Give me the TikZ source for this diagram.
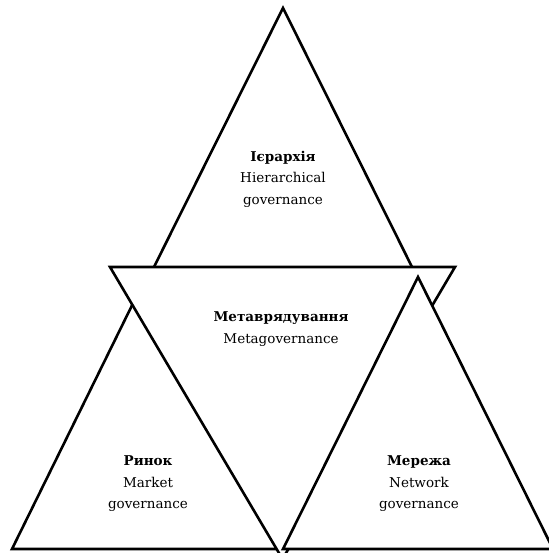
\documentclass[tikz,border=0pt]{standalone}
\usepackage{fontspec}
\setmainfont{DejaVu Serif}
\tikzset{tri/.style = {line width=2.6pt, line join=miter, fill=white, draw},
         txt/.style = {align=center, inner sep=0pt, font=\fontsize{13.5}{21.5}\selectfont}}

\begin{document}
\begin{tikzpicture}[x=1pt, y=-1pt]
    \useasboundingbox (0,0) rectangle (548,553);
    % hierarchy (top)
    \draw[tri] (283,8) -- (148.5,278) -- (417.5,278) -- cycle;
    % market (bottom left)
    \draw[tri] (144.5,280) -- (12,549) -- (277,549) -- cycle;
    % metagovernance (upside down)
    \draw[tri] (110,267) -- (455,267) -- (282.5,559) -- cycle;
    % network (bottom right)
    \draw[tri] (418,277) -- (283,549) -- (553,549) -- cycle;
    \node[txt] (hier) at (283,179) {\textbf{Ієрархія}\\Hierarchical\\governance};
    \node[txt] (meta) at (281,329) {\textbf{Метаврядування}\\Metagovernance};
    \node[txt] (mark) at (148,484) {\textbf{Ринок}\\Market\\governance};
    \node[txt] (netw) at (419,484) {\textbf{Мережа}\\Network\\governance};
\end{tikzpicture}
\end{document}
